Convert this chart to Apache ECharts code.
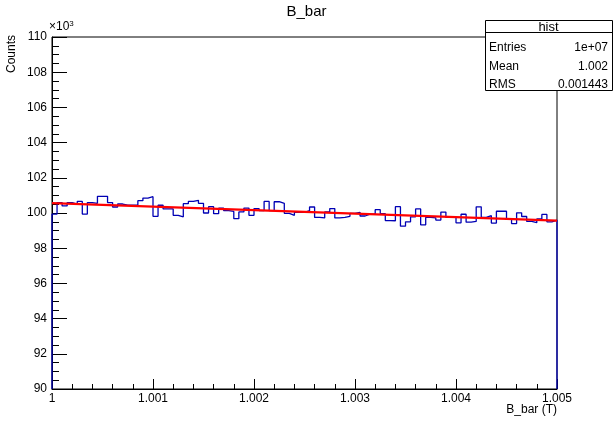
<!DOCTYPE html>
<html>
<head>
<meta charset="utf-8">
<script src="https://cdn.jsdelivr.net/npm/echarts@6/dist/echarts.min.js"></script>
<style>
html,body{margin:0;padding:0;background:#fff;}
#chart{width:613px;height:425px;}
</style>
</head>
<body>
<div id="chart"></div>
<script>
// ---- data (counts in units of 10^3) ----
const xMin = 1.000;
const xMax = 1.005;
const nBins = 100;
const binCounts = [
  99.94,100.59,100.40,100.59,100.51,100.66, 99.94,100.59,100.55,100.95,
 100.95,100.59,100.34,100.51,100.44,100.44,100.44,100.70,100.85,100.93,
  99.81,100.44,100.23,100.23, 99.87, 99.78,100.53,100.66,100.72,100.55,
 100.00,100.36, 99.96,100.27,100.13,100.09, 99.68,100.06,100.28, 99.87,
 100.25,100.13,100.66,100.13,100.64,100.55, 99.98, 99.87,100.04,100.04,
 100.13,100.34, 99.75, 99.72,100.06,100.25, 99.72, 99.75, 99.81, 99.98,
 100.04, 99.83, 99.94, 99.94,100.19, 99.96, 99.57, 99.56,100.36, 99.25,
  99.50, 99.78,100.23, 99.33, 99.75, 99.72, 99.60,100.05, 99.75, 99.75,
  99.44, 99.93, 99.48, 99.52,100.35, 99.75, 99.85, 99.43,100.10,100.10,
  99.66, 99.40,100.01, 99.80, 99.52, 99.45, 99.66, 99.92, 99.50, 99.60
];
const fitX = [1.000, 1.005];
const fitY = [100.56, 99.57];
const yMin = 90, yMax = 110, yStep = 2;
const xStep = 0.001;
const statsTitle = 'hist';
const statsNames = ['Entries', 'Mean', 'RMS'];
const statsValues = ['1e+07', '1.002', '0.001443'];

// ---- build step outline of histogram ----
const binW = (xMax - xMin) / nBins;
const histPts = [[xMin, yMin]];
binCounts.forEach((v, i) => {
  histPts.push([xMin + i * binW, v]);
  histPts.push([xMin + (i + 1) * binW, v]);
});
histPts.push([xMax, yMin]);
const fitPts = fitX.map((x, i) => [x, fitY[i]]);

const FONT = 'Liberation Sans, Arial, sans-serif';
const chart = echarts.init(document.getElementById('chart'), null, {renderer: 'canvas'});

const boxL = 485, boxR = 612, boxT = 20, boxB = 90, boxH1 = 32;
const statsGraphics = [
  {type: 'rect', shape: {x: boxL + 0.5, y: boxT + 0.5, width: boxR - boxL, height: boxB - boxT},
   style: {fill: '#fff', stroke: '#000', lineWidth: 1}, z: 100},
  {type: 'line', shape: {x1: boxL, y1: boxH1 + 0.5, x2: boxR, y2: boxH1 + 0.5},
   style: {stroke: '#000', lineWidth: 1}, z: 101},
  {type: 'text', x: (boxL + boxR) / 2, y: (boxT + boxH1) / 2 + 1,
   style: {text: statsTitle, font: '13px ' + FONT, fill: '#000', align: 'center', verticalAlign: 'middle'}, z: 102}
];
const rowY = [48, 66.5, 84.5];
statsNames.forEach((n, i) => {
  statsGraphics.push({type: 'text', x: boxL + 4, y: rowY[i],
    style: {text: n, font: '12px ' + FONT, fill: '#000', align: 'left', verticalAlign: 'middle'}, z: 102});
  statsGraphics.push({type: 'text', x: boxR - 4, y: rowY[i],
    style: {text: statsValues[i], font: '12px ' + FONT, fill: '#000', align: 'right', verticalAlign: 'middle'}, z: 102});
});

chart.setOption({
  animation: false,
  backgroundColor: '#fff',
  title: {
    text: 'B_bar', left: 'center', top: -1,
    textStyle: {fontFamily: FONT, fontSize: 15, fontWeight: 'normal', color: '#000'}
  },
  grid: {left: 52, right: 56, top: 37, bottom: 36, show: true, borderColor: '#000', borderWidth: 1, backgroundColor: 'transparent'},
  xAxis: {
    type: 'value', min: xMin, max: xMax, interval: xStep,
    axisLine: {show: true, onZero: false, lineStyle: {color: '#000', width: 1}},
    axisTick: {show: true, inside: true, length: 10, lineStyle: {color: '#000'}},
    minorTick: {show: true, splitNumber: 5, length: 5, lineStyle: {color: '#000'}},
    splitLine: {show: false},
    axisLabel: {
      color: '#000', fontFamily: FONT, fontSize: 12, margin: 4,
      formatter: v => (Math.abs(v - 1) < 1e-9 ? '1' : v.toFixed(3))
    }
  },
  yAxis: {
    type: 'value', min: yMin, max: yMax, interval: yStep,
    axisLine: {show: true, onZero: false, lineStyle: {color: '#000', width: 1}},
    axisTick: {show: true, inside: true, length: 15, lineStyle: {color: '#000'}},
    minorTick: {show: true, splitNumber: 4, length: 7, lineStyle: {color: '#000'}},
    splitLine: {show: false},
    axisLabel: {color: '#000', fontFamily: FONT, fontSize: 12, margin: 5, formatter: v => String(Math.round(v))}
  },
  series: [
    {
      type: 'line', data: histPts, symbol: 'none', silent: true,
      lineStyle: {color: '#0000b4', width: 1.3}, z: 3
    },
    {
      type: 'line', data: fitPts, symbol: 'none', silent: true,
      lineStyle: {color: '#ff0000', width: 2.3}, z: 4
    }
  ],
  graphic: [
    {type: 'text', x: 49, y: 27,
     style: {text: '×10{s|3}', rich: {s: {fontSize: 8, verticalAlign: 'top', padding: [0, 0, 6, 0], fontFamily: FONT}},
             font: '12px ' + FONT, fill: '#000', align: 'left', verticalAlign: 'middle'}},
    {type: 'text', x: 12, y: 35, rotation: Math.PI / 2,
     style: {text: 'Counts', font: '12px ' + FONT, fill: '#000', align: 'right', verticalAlign: 'middle'}},
    {type: 'text', x: 557, y: 410,
     style: {text: 'B_bar (T)', font: '12px ' + FONT, fill: '#000', align: 'right', verticalAlign: 'middle'}}
  ].concat(statsGraphics)
});
</script>
</body>
</html>
